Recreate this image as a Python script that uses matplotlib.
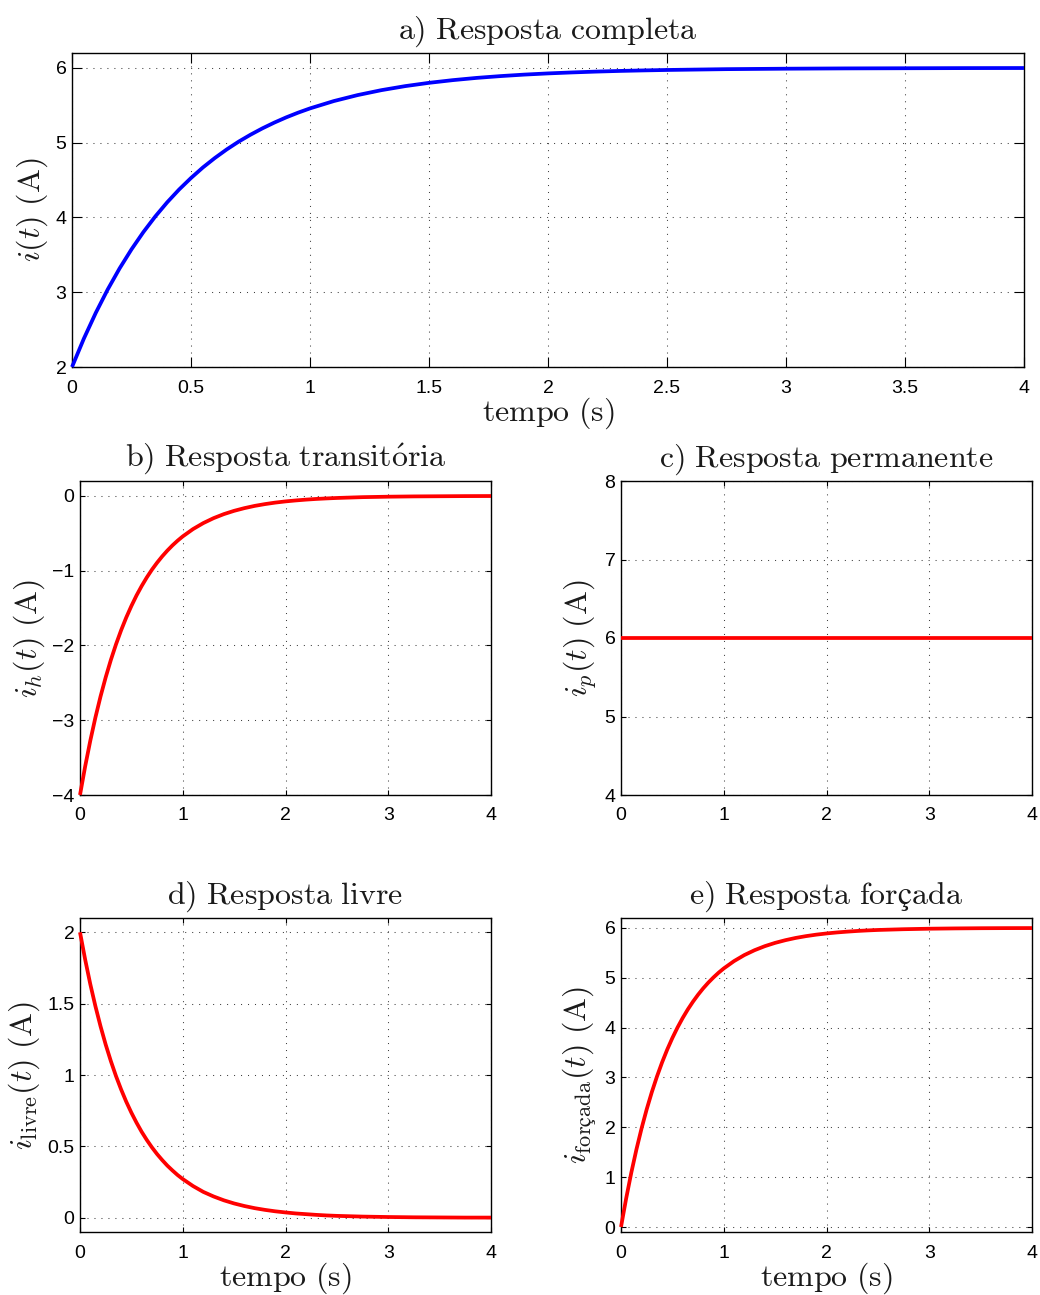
import matplotlib
matplotlib.use("Agg")
import matplotlib.pyplot as plt

plt.rcParams['mathtext.fontset'] = 'cm'
plt.rcParams['font.family'] = ['Liberation Sans', 'DejaVu Sans']
plt.rcParams['axes.unicode_minus'] = True

# ---- data ----
t = [0.00, 0.05, 0.10, 0.15, 0.20, 0.25, 0.30, 0.35, 0.40, 0.45, 0.50,
     0.55, 0.60, 0.65, 0.70, 0.75, 0.80, 0.85, 0.90, 0.95, 1.00,
     1.1, 1.2, 1.3, 1.4, 1.5, 1.6, 1.7, 1.8, 1.9, 2.0,
     2.1, 2.2, 2.3, 2.4, 2.5, 2.75, 3.0, 3.25, 3.5, 3.75, 4.0]

i_completa = [2.000, 2.381, 2.725, 3.037, 3.319, 3.574, 3.805, 4.014, 4.203, 4.374, 4.528,
              4.669, 4.795, 4.910, 5.014, 5.107, 5.192, 5.269, 5.339, 5.402, 5.459,
              5.557, 5.637, 5.703, 5.757, 5.801, 5.837, 5.867, 5.891, 5.911, 5.927,
              5.940, 5.951, 5.960, 5.967, 5.973, 5.984, 5.990, 5.994, 5.996, 5.998, 5.999]

i_h = [-4.000, -3.619, -3.275, -2.963, -2.681, -2.426, -2.195, -1.986, -1.797, -1.626, -1.472,
       -1.331, -1.205, -1.090, -0.986, -0.893, -0.808, -0.731, -0.661, -0.598, -0.541,
       -0.443, -0.363, -0.297, -0.243, -0.199, -0.163, -0.133, -0.109, -0.089, -0.073,
       -0.060, -0.049, -0.040, -0.033, -0.027, -0.016, -0.010, -0.006, -0.004, -0.002, -0.001]

t_p = [0.0, 4.0]
i_p = [6.0, 6.0]

i_livre = [2.000, 1.810, 1.637, 1.482, 1.341, 1.213, 1.098, 0.993, 0.899, 0.813, 0.736,
           0.666, 0.602, 0.545, 0.493, 0.446, 0.404, 0.365, 0.331, 0.299, 0.271,
           0.222, 0.181, 0.149, 0.122, 0.100, 0.082, 0.067, 0.055, 0.045, 0.037,
           0.030, 0.025, 0.020, 0.016, 0.013, 0.008, 0.005, 0.003, 0.002, 0.001, 0.001]

i_forcada = [0.000, 0.571, 1.088, 1.555, 1.978, 2.361, 2.707, 3.020, 3.304, 3.561, 3.793,
             4.003, 4.193, 4.365, 4.520, 4.661, 4.789, 4.904, 5.008, 5.103, 5.188,
             5.335, 5.456, 5.554, 5.635, 5.701, 5.755, 5.800, 5.836, 5.866, 5.890,
             5.910, 5.926, 5.940, 5.951, 5.960, 5.975, 5.985, 5.991, 5.995, 5.997, 5.998]

titles = [r'$\mathrm{a)\ Resposta\ completa}$',
          r'$\mathrm{b)\ Resposta\ transit\'oria}$',
          r'$\mathrm{c)\ Resposta\ permanente}$',
          r'$\mathrm{d)\ Resposta\ livre}$',
          '$\\mathrm{e)\\ Resposta\\ for\u00e7ada}$']
ylabels = [r'$i(t)\ \mathrm{(A)}$',
           r'$i_h(t)\ \mathrm{(A)}$',
           r'$i_p(t)\ \mathrm{(A)}$',
           r'$i_{\mathrm{livre}}(t)\ \mathrm{(A)}$',
           '$i_{\\mathrm{for\u00e7ada}}(t)\\ \\mathrm{(A)}$']
xlabel = r'$\mathrm{tempo\ (s)}$'

xticks_a = [0, 0.5, 1, 1.5, 2, 2.5, 3, 3.5, 4]
xticklabels_a = ['0', '0.5', '1', '1.5', '2', '2.5', '3', '3.5', '4']
xticks_small = [0, 1, 2, 3, 4]
yticks = [[2, 3, 4, 5, 6], [-4, -3, -2, -1, 0], [4, 5, 6, 7, 8],
          [0, 0.5, 1, 1.5, 2], [0, 1, 2, 3, 4, 5, 6]]
yticklabels = [['2', '3', '4', '5', '6'], ['\u22124', '\u22123', '\u22122', '\u22121', '0'],
               ['4', '5', '6', '7', '8'], ['0', '0.5', '1', '1.5', '2'],
               ['0', '1', '2', '3', '4', '5', '6']]
ylims = [(2, 6.2), (-4, 0.2), (4, 8), (-0.1, 2.1), (-0.1, 6.2)]

W, H = 1040, 1295
fig = plt.figure(figsize=(W / 100, H / 100), dpi=100)

def rect(l, t_, r, b):
    return [l / W, 1 - b / H, (r - l) / W, (b - t_) / H]

axes = [fig.add_axes(rect(72, 53, 1024, 367)),
        fig.add_axes(rect(80, 481, 491, 795)),
        fig.add_axes(rect(621, 481, 1032, 795)),
        fig.add_axes(rect(80, 918, 491, 1232)),
        fig.add_axes(rect(621, 918, 1032, 1232))]

series = [(t, i_completa, 'blue'), (t, i_h, 'red'), (t_p, i_p, 'red'),
          (t, i_livre, 'red'), (t, i_forcada, 'red')]

txt_color = '#1a1a1a'

for k, ax in enumerate(axes):
    x, y, c = series[k]
    ax.plot(x, y, color=c, lw=2.7, solid_capstyle='butt', solid_joinstyle='round',
            zorder=3, clip_on=False)
    ax.set_xlim(0, 4)
    ax.set_ylim(*ylims[k])
    if k == 0:
        ax.set_xticks(xticks_a)
        ax.set_xticklabels(xticklabels_a)
        tl = 7
    else:
        ax.set_xticks(xticks_small)
        ax.set_xticklabels([str(v) for v in xticks_small])
        tl = 3.5
    ax.set_yticks(yticks[k])
    ax.set_yticklabels(yticklabels[k])
    ax.tick_params(direction='in', top=True, right=True, length=tl, width=0.8,
                   labelsize=14)
    ax.tick_params(axis='x', pad=9)
    ax.tick_params(axis='y', pad=4)
    ax.grid(True, color='black', linestyle=(0, (1, 5.7)), linewidth=0.75, alpha=0.75)
    for s in ax.spines.values():
        s.set_linewidth(1.0)
    ax.set_title(titles[k], fontsize=23, pad=10, color=txt_color)
    ax.set_ylabel(ylabels[k], fontsize=23, labelpad=4, color=txt_color)
    if k in (0, 3, 4):
        ax.set_xlabel(xlabel, fontsize=23, labelpad=-1, color=txt_color)

fig.savefig('out.png', dpi=100)
